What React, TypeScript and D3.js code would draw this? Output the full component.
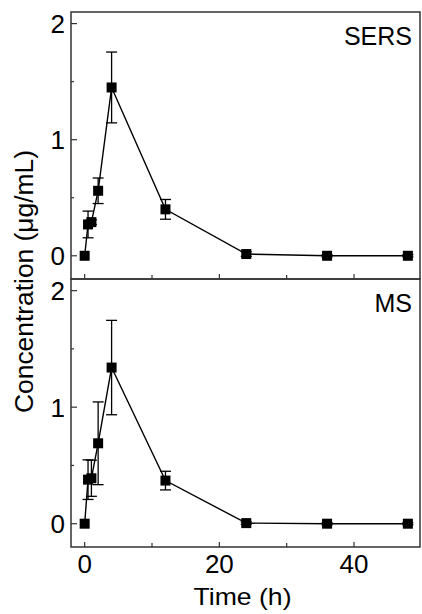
import React from "react";
import * as d3 from "d3";

const times = [0, 0.5, 1, 2, 4, 12, 24, 36, 48];
const sersValues = [0, 0.27, 0.29, 0.56, 1.45, 0.40, 0.015, 0, 0];
const sersErrors = [0, 0.115, 0.02, 0.11, 0.305, 0.085, 0.02, 0.01, 0.01];
const msValues = [0, 0.378, 0.39, 0.69, 1.34, 0.37, 0.005, 0, 0];
const msErrors = [0, 0.17, 0.155, 0.355, 0.405, 0.08, 0.01, 0.01, 0.01];
const panelNames = ["SERS", "MS"];
const yMajorTicks = [0, 1, 2];
const yMinorTicks = [0.5, 1.5];
const xMajorTicks = [0, 20, 40];
const xMinorTicks = [10, 30];

const W = 422, H = 614;
const left = 71, right = 420;
const panels = [
  { top: 12, bottom: 279, values: sersValues, errors: sersErrors, name: panelNames[0] },
  { top: 279, bottom: 547, values: msValues, errors: msErrors, name: panelNames[1] },
];
const font = "'Liberation Sans', Arial, sans-serif";
const axisColor = "#333";

export default function App() {
  const x = d3.scaleLinear().domain([-2.03, 49.8]).range([left, right]);
  const line = d3.line<[number, number]>();
  return (
    <svg width={W} height={H} style={{ position: "absolute", left: 0, top: 0, background: "#fff" }}>
      {panels.map((p, pi) => {
        const y = d3.scaleLinear().domain([-0.2, 2.1]).range([p.bottom, p.top]);
        const pts: [number, number][] = times.map((t, i) => [x(t), y(p.values[i])]);
        return (
          <g key={pi}>
            {yMajorTicks.map((v) => (
              <g key={"ym" + v}>
                <line x1={left} x2={left + 6} y1={y(v)} y2={y(v)} stroke={axisColor} strokeWidth={1.2} />
                <text x={65} y={y(v)} dy="0.36em" textAnchor="end" fontFamily={font} fontSize={26} fill="#000">{v}</text>
              </g>
            ))}
            {yMinorTicks.map((v) => (
              <line key={"yn" + v} x1={left} x2={left + 3} y1={y(v)} y2={y(v)} stroke={axisColor} strokeWidth={1.2} />
            ))}
            {xMajorTicks.map((v) => (
              <line key={"xm" + v} x1={x(v)} x2={x(v)} y1={p.bottom} y2={p.bottom - 5} stroke={axisColor} strokeWidth={1.2} />
            ))}
            {xMinorTicks.map((v) => (
              <line key={"xn" + v} x1={x(v)} x2={x(v)} y1={p.bottom} y2={p.bottom - 4} stroke={axisColor} strokeWidth={1.2} />
            ))}
            {times.map((t, i) => {
              const e = p.errors[i];
              if (e <= 0) return null;
              const cx = x(t);
              const y1 = y(p.values[i] + e), y2 = y(p.values[i] - e);
              return (
                <g key={"e" + i} stroke="#000" strokeWidth={1.3}>
                  <line x1={cx} x2={cx} y1={y1} y2={y2} />
                  <line x1={cx - 5.5} x2={cx + 5.5} y1={y1} y2={y1} />
                  <line x1={cx - 5.5} x2={cx + 5.5} y1={y2} y2={y2} />
                </g>
              );
            })}
            <path d={line(pts) || ""} fill="none" stroke="#000" strokeWidth={1.4} />
            {pts.map(([px, py], i) => (
              <rect key={"m" + i} x={px - 5} y={py - 5} width={10} height={10} fill="#000" />
            ))}
            <text x={412} y={p.top + 33} textAnchor="end" fontFamily={font} fontSize={25} fill="#000">{p.name}</text>
            <rect x={left} y={p.top} width={right - left} height={p.bottom - p.top} fill="none" stroke={axisColor} strokeWidth={1.5} />
          </g>
        );
      })}
      {xMajorTicks.map((v) => (
        <text key={"xl" + v} x={x(v)} y={573} textAnchor="middle" fontFamily={font} fontSize={26} fill="#000">{v}</text>
      ))}
      <text x={242.5} y={605} textAnchor="middle" fontFamily={font} fontSize={24} textLength={98} lengthAdjust="spacingAndGlyphs" fill="#000">Time (h)</text>
      <text transform={`translate(33,281.5) rotate(-90)`} textAnchor="middle" fontFamily={font} fontSize={25} textLength={263} lengthAdjust="spacingAndGlyphs" fill="#000">Concentration (μg/mL)</text>
    </svg>
  );
}
